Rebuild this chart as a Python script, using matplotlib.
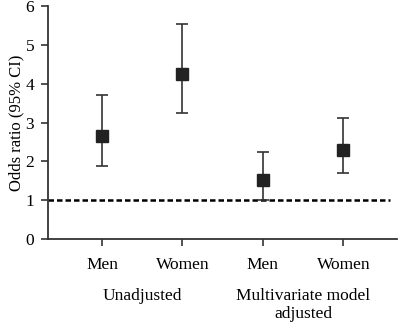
import numpy as np
import matplotlib.pyplot as plt

plt.rcParams['font.family'] = ['Liberation Serif', 'DejaVu Serif']

groups = ["Men", "Women", "Men", "Women"]
sections = ["Unadjusted", "Multivariate model\nadjusted"]
odds = [2.65, 4.25, 1.52, 2.30]
lower = [1.89, 3.26, 1.00, 1.69]
upper = [3.71, 5.55, 2.24, 3.11]

x = np.arange(len(groups))
odds = np.array(odds)
yerr = [odds - np.array(lower), np.array(upper) - odds]

fig = plt.figure(figsize=(3.98, 3.24), dpi=100)
ax = fig.add_axes([0.121, 0.262, 0.877, 0.719])

ax.axhline(1, color='k', ls=(0, (2.2, 1.2)), lw=1.8, xmin=0, xmax=0.98, zorder=1)
ax.errorbar(x, odds, yerr=yerr, fmt='s', color='#222222', ecolor='#333333',
            ms=8, capsize=4, elinewidth=1.2, capthick=1.2, zorder=3)

ax.set_xlim(-0.67, 3.67)
ax.set_ylim(0, 6)
ax.set_yticks(range(0, 7))
ax.set_xticks(x)
ax.set_xticklabels(groups)
ax.tick_params(direction='out', length=5, width=1.2, color='#333333', labelsize=12.5, pad=5)
ax.tick_params(axis='x', pad=8)
ax.set_ylabel("Odds ratio (95% CI)", fontsize=12, labelpad=1)

for s in ['top', 'right']:
    ax.spines[s].set_visible(False)
for s in ['left', 'bottom']:
    ax.spines[s].set_linewidth(1.3)
    ax.spines[s].set_color('#333333')

for i, lab in enumerate(sections):
    ax.text(2 * i + 0.5, -1.25, lab, ha='center', va='top', fontsize=12.5,
            transform=ax.transData, clip_on=False, linespacing=1.2)

fig.savefig("out.png", dpi=100)
